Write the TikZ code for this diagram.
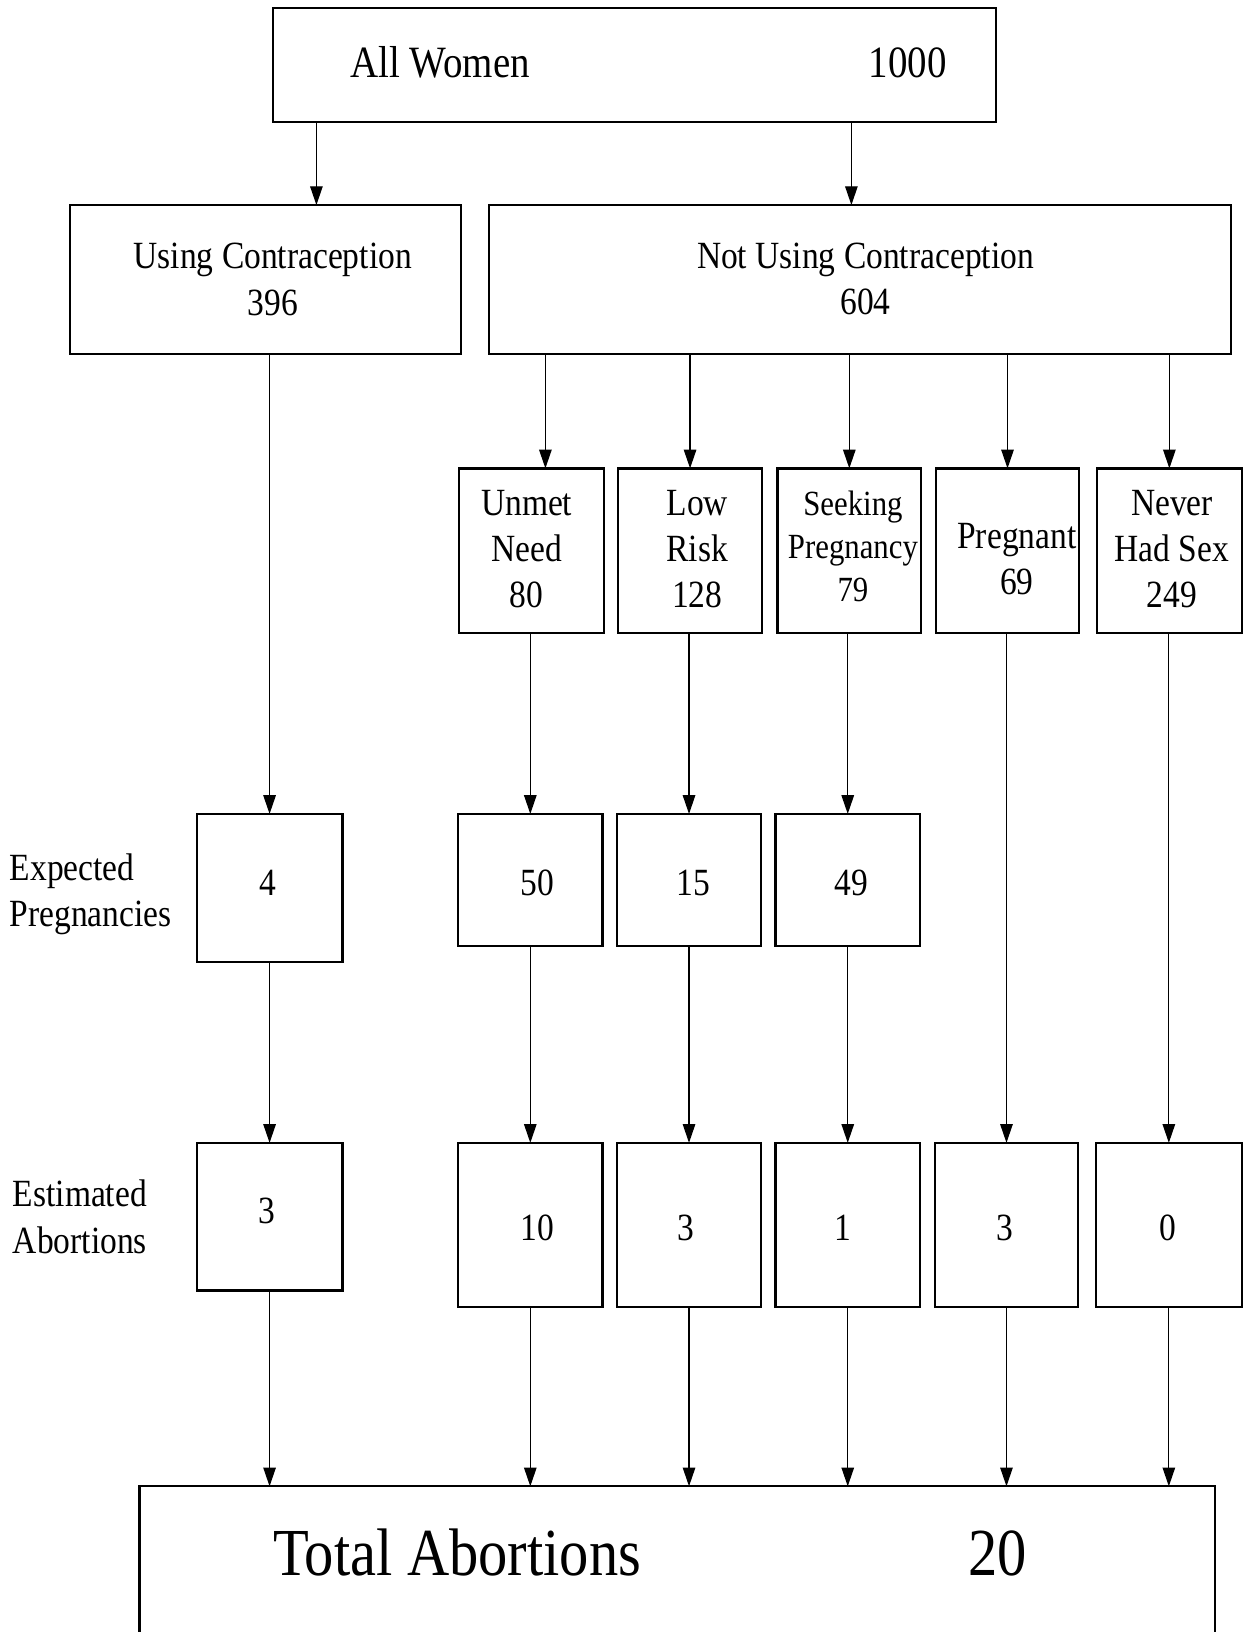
\documentclass[tikz,border=0pt]{standalone}
\usepackage{fontspec}
\setmainfont{Liberation Serif}[FakeStretch=0.87]
\usetikzlibrary{arrows.meta,fit}
\begin{document}
\begin{tikzpicture}[x=0.5pt,y=-0.5pt,
  box/.style={draw, line width=1.1pt, inner sep=0pt, outer sep=0pt},
  txt/.style={inner sep=0pt, align=center, font=\fontsize{18.5}{22.25}\selectfont},
  lbl/.style={inner sep=0pt, align=left, anchor=west, font=\fontsize{18.5}{22.25}\selectfont},
  arr/.style={line width=0.6pt, -{Triangle[length=9pt,width=6pt]}},
  big/.style={inner sep=0pt, font=\fontsize{21.5}{26}\selectfont},
  huge/.style={inner sep=0pt, font=\fontsize{32.3}{38}\selectfont}]
\useasboundingbox (0,0) rectangle (1195,1568);
\clip (0,0) rectangle (1195,1568);

% top
\node[box, fit={(262,8)(957,117)}] (top) {};
\node[big, anchor=base west] (allw) at (336,74.5) {All Women};
\node[big, anchor=base east] (n1000) at (910,74.5) {1000};

% second row
\node[box, fit={(67,197)(443,340)}] (using) {};
\node[txt] (usingT) at (262,268.5) {Using Contraception\\396};
\node[box, fit={(470,197)(1183,340)}] (notuse) {};
\node[txt] (notuseT) at (831.5,268) {Not Using Contraception\\604};

% third row
\node[box, fit={(441,450)(580,608)}] (unmet) {};
\node[txt] (unmetT) at (506,527.5) {Unmet\\Need\\80};
\node[box, fit={(594,450)(732,608)}] (low) {};
\node[txt] (lowT) at (670,527.5) {Low\\Risk\\128};
\node[box, fit={(747,450)(885,608)}] (seek) {};
\node[txt, font=\fontsize{17}{20.5}\selectfont] (seekT) at (819.5,525) {Seeking\\Pregnancy\\79};
\node[box, fit={(899,450)(1037,608)}] (preg) {};
\node[txt] (pregT) at (977,537) {Pregnant\\69};
\node[box, fit={(1054,450)(1193,608)}] (never) {};
\node[txt] (neverT) at (1126,527.5) {Never\\Had Sex\\249};

% expected pregnancies
\node[lbl] (explbl) at (9,859.5) {Expected\\Pregnancies};
\node[box, fit={(189,782)(329,924)}] (e4) {};
\node[txt] (e4T) at (257,848) {4};
\node[box, fit={(440,782)(579,909)}] (e50) {};
\node[txt] (e50T) at (516,848) {50};
\node[box, fit={(593,782)(731,909)}] (e15) {};
\node[txt] (e15T) at (666,848) {15};
\node[box, fit={(745,782)(884,909)}] (e49) {};
\node[txt] (e49T) at (818,848) {49};

% estimated abortions
\node[lbl] (estlbl) at (12,1169) {Estimated\\Abortions};
\node[box, fit={(189,1098)(329,1240)}] (a3) {};
\node[txt] (a3T) at (256,1163) {3};
\node[box, fit={(440,1098)(579,1256)}] (a10) {};
\node[txt] (a10T) at (516,1180) {10};
\node[box, fit={(593,1098)(731,1256)}] (a3b) {};
\node[txt] (a3bT) at (659,1180) {3};
\node[box, fit={(745,1098)(884,1256)}] (a1) {};
\node[txt] (a1T) at (810,1180) {1};
\node[box, fit={(898,1098)(1036,1256)}] (a3c) {};
\node[txt] (a3cT) at (965,1180) {3};
\node[box, fit={(1053,1098)(1193,1256)}] (a0) {};
\node[txt] (a0T) at (1122,1180) {0};

% total
\node[box, fit={(134,1428)(1167,1640)}] (total) {};
\node[huge, anchor=base west] (totl) at (262,1514) {Total Abortions};
\node[huge, anchor=base east] (t20) at (987,1514) {20};

% connectors
\coordinate (cu) at ([xshift=24.5pt]using.north);
\coordinate (cn) at ([xshift=-4.25pt]notuse.north);
\coordinate (cm) at ([xshift=6.75pt]unmet.north);
\draw[arr] (cu |- top.south) -- (cu);
\draw[arr] (cn |- top.south) -- (cn);
\draw[arr] (cm |- notuse.south) -- (cm);
\draw[arr] (low.north |- notuse.south) -- (low.north);
\draw[arr] (seek.north |- notuse.south) -- (seek.north);
\draw[arr] (preg.north |- notuse.south) -- (preg.north);
\draw[arr] (never.north |- notuse.south) -- (never.north);

\draw[arr] (e4.north |- using.south) -- (e4.north);
\draw[arr] (e50.north |- unmet.south) -- (e50.north);
\draw[arr] (e15.north |- low.south) -- (e15.north);
\draw[arr] (e49.north |- seek.south) -- (e49.north);
\draw[arr] (a3c.north |- preg.south) -- (a3c.north);
\draw[arr] (a0.north |- never.south) -- (a0.north);

\draw[arr] (e4.south) -- (a3.north);
\draw[arr] (e50.south) -- (a10.north);
\draw[arr] (e15.south) -- (a3b.north);
\draw[arr] (e49.south) -- (a1.north);

\draw[arr] (a3.south) -- (a3.south |- total.north);
\draw[arr] (a10.south) -- (a10.south |- total.north);
\draw[arr] (a3b.south) -- (a3b.south |- total.north);
\draw[arr] (a1.south) -- (a1.south |- total.north);
\draw[arr] (a3c.south) -- (a3c.south |- total.north);
\draw[arr] (a0.south) -- (a0.south |- total.north);
\end{tikzpicture}
\end{document}
